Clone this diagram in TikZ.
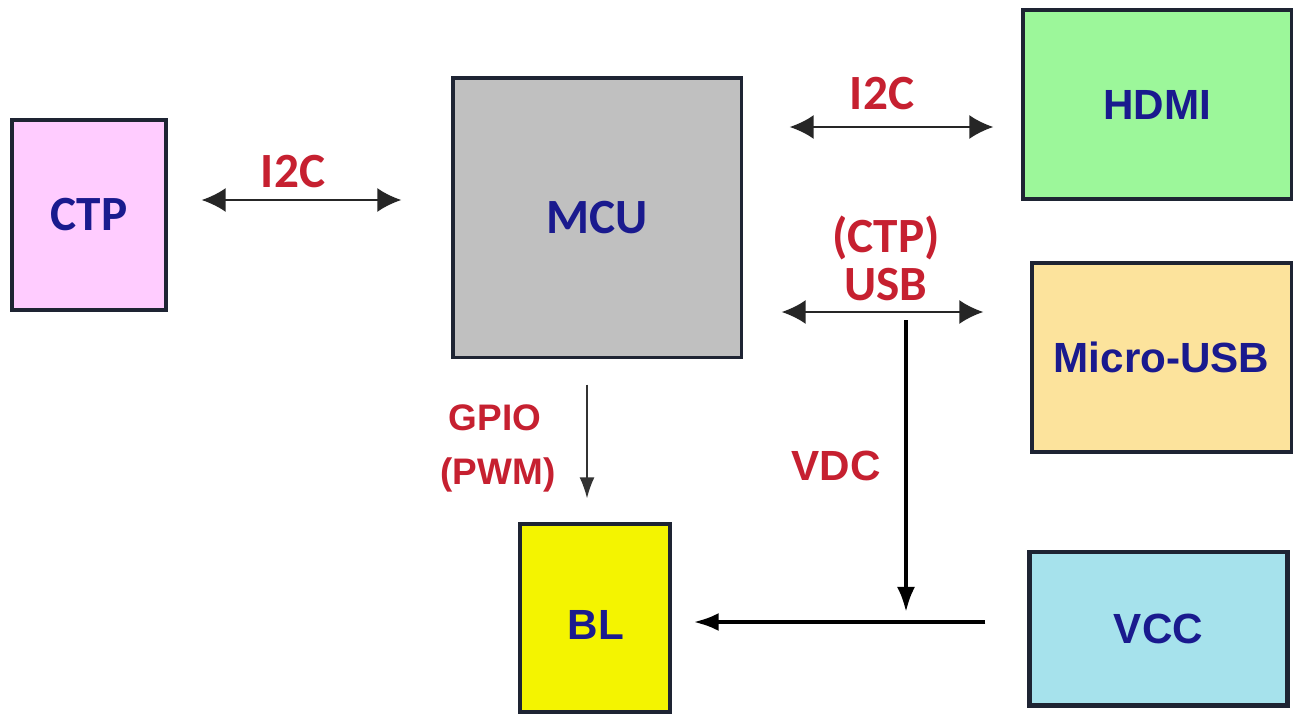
\documentclass[tikz,border=0pt]{standalone}
\usepackage{fontspec}
\setmainfont{Liberation Sans}
\newfontfamily\calfont{Carlito}
\usetikzlibrary{arrows.meta}
\definecolor{txtblue}{HTML}{1A1A8E}
\definecolor{lblred}{HTML}{C62030}
\definecolor{edge}{HTML}{1E2433}
\definecolor{ctpfill}{HTML}{FFCCFF}
\definecolor{mcufill}{HTML}{C0C0C0}
\definecolor{hdmifill}{HTML}{9CF79A}
\definecolor{usbfill}{HTML}{FCE39C}
\definecolor{vccfill}{HTML}{A6E2EC}
\definecolor{blfill}{HTML}{F4F400}
\tikzset{
  blk/.style={draw=edge, line width=0.9pt, inner sep=0pt, text=txtblue, font=\bfseries\fontsize{12}{14}\selectfont},
  calblk/.style={blk, font=\calfont\bfseries\fontsize{14}{16}\selectfont},
  lbl/.style={text=lblred, inner sep=0pt, font=\calfont\bfseries\fontsize{14}{16}\selectfont},
  albl/.style={text=lblred, inner sep=0pt, font=\bfseries\fontsize{10.5}{12}\selectfont},
  biarrow/.style={line width=0.6pt, draw=black!85, {Latex[length=0.24cm,width=0.24cm]}-{Latex[length=0.24cm,width=0.24cm]}},
  pwr/.style={line width=1.1pt, -{Latex[length=0.25cm,width=0.18cm]}},
  gpio/.style={line width=0.45pt, draw=black!80, -{Latex[length=0.21cm,width=0.15cm]}}
}
\begin{document}
\begin{tikzpicture}[x=0.01cm,y=-0.01cm]
\useasboundingbox[fill=white] (0,0) rectangle (1297,715);
% blocks
\node[calblk, fill=ctpfill, minimum width=1.54cm, minimum height=1.90cm] (ctp) at (89,215) {CTP};
\node[calblk, fill=mcufill, minimum width=2.88cm, minimum height=2.79cm] (mcu) at (597,217.5) {MCU};
\node[blk, fill=hdmifill, minimum width=2.68cm, minimum height=1.89cm] (hdmi) at (1157,104.5) {HDMI};
\node[blk, fill=usbfill, minimum width=2.59cm, minimum height=1.89cm] (musb) at (1161.5,357.5) {Micro-USB};
\node[blk, fill=vccfill, line width=1.4pt, minimum width=2.57cm, minimum height=1.53cm] (vcc) at (1158.5,628.5) {VCC};
\node[blk, fill=blfill, minimum width=1.50cm, minimum height=1.88cm] (bl) at (595,618) {};
\node[text=txtblue, font=\bfseries\fontsize{12}{14}\selectfont] (bltext) at (596,625) {BL};
% connectors
\draw[biarrow, shorten <=0.34cm, shorten >=0.5cm] (ctp.east |- 0,200) -- (mcu.west |- 0,200);
\draw[biarrow, shorten <=0.47cm, shorten >=0.28cm] (mcu.east |- 0,127) -- (hdmi.west |- 0,127);
\draw[biarrow, shorten <=0.39cm, shorten >=0.47cm] (mcu.east |- 0,312) -- (musb.west |- 0,312);
\coordinate (vdctop) at (906,320);
\coordinate (junc) at (906,622);
\draw[pwr, shorten >=0.1cm] (vdctop) -- (junc);
\draw[pwr, shorten <=0.42cm, shorten >=0.22cm] (vcc.west |- junc) -- (bl.east |- junc);
\draw[gpio, shorten <=0.26cm, shorten >=0.24cm] (mcu.south -| 587,0) -- (bl.north -| 587,0);
% labels
\node[lbl] (l1) at (293,172) {I2C};
\node[lbl] (l2) at (882,94) {I2C};
\node[lbl] (l3) at (886,238) {(CTP)};
\node[lbl] (l4) at (886,285) {USB};
\node[albl, font=\bfseries\fontsize{12}{14}\selectfont] (l5) at (836,466) {VDC};
\node[albl] (l6) at (495,418) {GPIO};
\node[albl] (l7) at (498,475) {(PWM)};
\end{tikzpicture}
\end{document}
